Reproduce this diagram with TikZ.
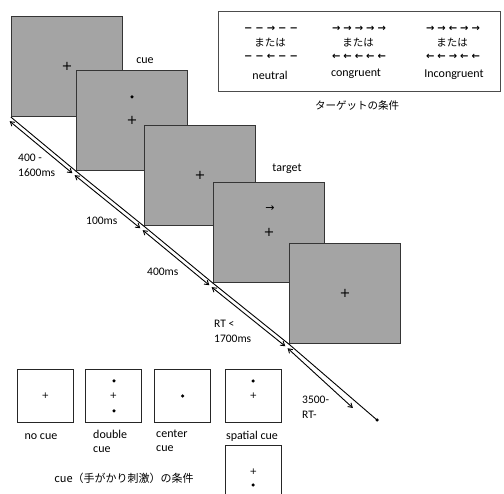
\documentclass[tikz,border=0pt]{standalone}
\usepackage{fontspec}
\setmainfont{Carlito}
\newfontfamily\jpfont{Noto Sans CJK JP}
\newfontfamily\symfont{DejaVu Sans}
\newfontfamily\arrowfont[LetterSpace=30]{DejaVu Sans}
\usetikzlibrary{arrows.meta, positioning}
\definecolor{screengray}{HTML}{A4A4A4}
\definecolor{framegray}{HTML}{353535}

\begin{document}
\begin{tikzpicture}[x=1pt, y=-1pt, every node/.style={font=\fontsize{12}{14}\selectfont},
  screen/.style={draw=framegray, line width=1.2pt, fill=screengray, minimum width=111pt, minimum height=100pt, inner sep=0pt, anchor=north west},
  cuebox/.style={draw=black!85, line width=1pt, fill=white, minimum width=56pt, minimum height=53pt, inner sep=0pt, anchor=north west},
  fix/.style={font=\symfont\fontsize{13}{13}\selectfont, inner sep=0pt},
  smallfix/.style={font=\symfont\fontsize{9}{9}\selectfont, inner sep=0pt},
  cuedot/.style={circle, fill=black, inner sep=0pt, minimum size=3.5pt},
  arrowrow/.style={font=\arrowfont\bfseries\fontsize{10}{10}\selectfont, inner sep=0pt},
  jp/.style={font=\jpfont\fontsize{10.5}{12}\selectfont, inner sep=0pt},
  timing/.style={align=left, anchor=west, inner sep=0pt, font=\fontsize{11.5}{15}\selectfont},
  span/.style={{Straight Barb[length=4pt,width=5pt]}-{Straight Barb[length=4pt,width=5pt]}, line width=0.9pt, shorten <=1.5pt, shorten >=1.5pt}]

  \useasboundingbox (0,0) rectangle (504,494);
  \clip (0,0) rectangle (504,494);

  % screens of one trial
  \node[screen] (s1) at (11,16) {};
  \node[fix] (p1) at (s1.center) {+};
  \node[screen] (s2) at (76,70) {};
  \node[fix] (p2) at (s2.center) {+};
  \node[cuedot] (d2) at (132,97) {};
  \node[screen] (s3) at (144,125) {};
  \node[fix] (p3) at (s3.center) {+};
  \node[screen] (s4) at (213,182) {};
  \node[fix] (p4) at (s4.center) {+};
  \node[font=\symfont\fontsize{11}{11}\selectfont, inner sep=0pt] (a4) at (270,209) {→};
  \node[screen] (s5) at (289,243) {};
  \node[fix] (p5) at (s5.center) {+};

  \node (cuelab) at (145,61) {cue};
  \node (targetlab) at (287,169) {target};

  % time line
  \coordinate (tend) at (377,420);
  \coordinate (aend) at (354,409);
  \draw[line width=0.9pt] (s1.south west) -- (s2.south west) -- (s3.south west) -- (s4.south west) -- (s5.south west) -- (tend);
  \node[cuedot] (tdot) at (tend) {};
  \draw[span] ([shift={(-2.5,3)}]s1.south west) -- ([shift={(-2.5,3)}]s2.south west);
  \draw[span] ([shift={(-2.5,3)}]s2.south west) -- ([shift={(-2.5,3)}]s3.south west);
  \draw[span] ([shift={(-2.5,3)}]s3.south west) -- ([shift={(-2.5,3)}]s4.south west);
  \draw[span] ([shift={(-2.5,3)}]s4.south west) -- ([shift={(-2.5,3)}]s5.south west);
  \draw[span] ([shift={(-2.5,3)}]s5.south west) -- (aend);

  \node[timing] (t1) at (18,165.5) {400 -\\1600ms};
  \node[timing] (t2) at (86,221) {100ms};
  \node[timing] (t3) at (147,272) {400ms};
  \node[timing] (t4) at (214,331) {RT <\\1700ms};
  \node[timing] (t5) at (302,407) {3500-\\RT-};

  % target conditions
  \node[draw=black!70, line width=1.1pt, minimum width=282pt, minimum height=80pt, inner sep=0pt, anchor=north west] (legend) at (218,11) {};
  \node[arrowrow] (n1) at (271,29) {−−→−−};
  \node[jp] (n2) at (270,43) {または};
  \node[arrowrow] (n3) at (271,57) {−−←−−};
  \node (n4) at (270,75) {neutral};
  \node[arrowrow] (c1) at (359,29) {→→→→→};
  \node[jp] (c2) at (358,43) {または};
  \node[arrowrow] (c3) at (359,57) {←←←←←};
  \node (c4) at (356,74) {congruent};
  \node[arrowrow] (i1) at (453,29) {→→←→→};
  \node[jp] (i2) at (452,43) {または};
  \node[arrowrow] (i3) at (453,57) {←←→←←};
  \node (i4) at (454,75) {Incongruent};
  \node[jp] (legendlab) at (357,106) {ターゲットの条件};

  % cue conditions
  \node[cuebox] (b1) at (17,369) {};
  \node[smallfix] at (b1.center) {+};
  \node[cuebox] (b2) at (85,369) {};
  \node[smallfix] at (b2.center) {+};
  \node[cuedot] at (114,381) {};
  \node[cuedot] at (114,411) {};
  \node[cuebox] (b3) at (154,369) {};
  \node[cuedot] at (b3.center) {};
  \node[cuebox] (b4) at (225,369) {};
  \node[smallfix] at (b4.center) {+};
  \node[cuedot] at (253,381) {};
  \node[cuebox] (b5) at (225,445) {};
  \node[smallfix] at (b5.center) {+};
  \node[cuedot] at (253,485) {};

  \node (l1) at (41,437) {no cue};
  \node[align=left, anchor=north west, inner sep=0pt, font=\fontsize{12}{14}\selectfont] (l2) at (93,430) {double\\cue};
  \node[align=left, anchor=north west, inner sep=0pt, font=\fontsize{12}{14}\selectfont] (l3) at (156,430) {center\\cue};
  \node (l4) at (252,436) {spatial cue};
  \node[jp, font=\jpfont\fontsize{11}{12}\selectfont] (cuelegend) at (124,478) {cue（手がかり刺激）の条件};
\end{tikzpicture}
\end{document}
